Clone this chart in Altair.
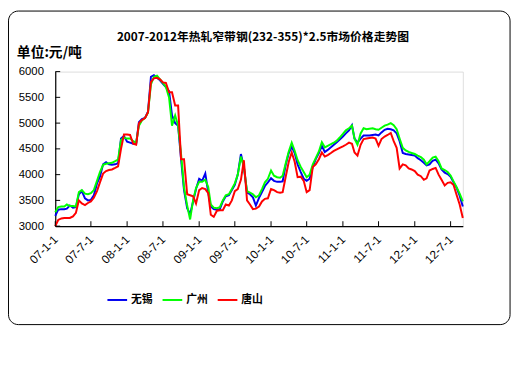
import altair as alt
import pandas as pd

# ---- categories (half-monthly dates, Jan 2007 - Sep 2012) ----
dates = []
for i in range(69):
    yr = 2007 + i // 12
    mo = i % 12 + 1
    dates.append(f"{yr}-{mo:02d}-01T00:00:00")
    if i < 68:
        dates.append(f"{yr}-{mo:02d}-16T00:00:00")

series_names = ["无锡", "广州", "唐山"]
series_colors = ["#0000F0", "#00FF00", "#FF0000"]

wuxi = [
    3200, 3320, 3330, 3330, 3340, 3400, 3360, 3370, 3620, 3680, 3540, 3500,
    3510, 3600, 3830, 3960, 4200, 4240, 4200, 4190, 4200, 4220, 4700, 4750,
    4640, 4620, 4600, 4600, 5020, 5080, 5100, 5220, 5900, 5930, 5880, 5830,
    5760, 5700, 5620, 5150, 5000, 4950, 4300, 3700, 3350, 3230, 3480, 3720,
    3920, 3880, 4020, 3650, 3380, 3330, 3320, 3330, 3480, 3580, 3600, 3700,
    3800, 4000, 4400, 4150, 3650, 3620, 3560, 3400, 3550, 3660, 3780, 3850,
    3930, 3880, 3860, 3860, 3870, 4180, 4420, 4540, 4420, 4200, 4050, 3920,
    3880, 3920, 4150, 4300, 4420, 4560, 4440, 4480, 4530, 4580, 4630, 4680,
    4740, 4800, 4860, 4960, 4700, 4620, 4700, 4760, 4760, 4760, 4770, 4780,
    4760, 4820, 4870, 4890, 4880, 4860, 4800, 4650, 4420, 4400, 4390, 4380,
    4370, 4320, 4280, 4230, 4180, 4200, 4270, 4290, 4220, 4100, 4040, 4010,
    3960, 3850, 3740, 3590, 3380,
]
guangzhou = [
    3270, 3370, 3380, 3380, 3420, 3390, 3390, 3380, 3660, 3700, 3630, 3620,
    3640, 3700, 3880, 4050, 4190, 4210, 4220, 4230, 4260, 4290, 4670, 4720,
    4700, 4700, 4650, 4620, 4950, 5050, 5100, 5200, 5750, 5900, 5920, 5850,
    5780, 5700, 5500, 4950, 5150, 4950, 4400, 3750, 3400, 3130, 3500, 3740,
    3860, 3860, 3900, 3760, 3420, 3360, 3350, 3370, 3500, 3600, 3620, 3720,
    3830, 4000, 4350, 4150, 3680, 3650, 3620, 3560, 3600, 3720, 3850, 3920,
    4080, 3980, 3950, 3940, 3980, 4210, 4450, 4620, 4460, 4280, 4150, 4050,
    3950, 4000, 4200, 4320, 4450, 4630, 4530, 4560, 4590, 4620, 4660, 4720,
    4790, 4860, 4900, 4950, 4700, 4580, 4800, 4900, 4880, 4890, 4900, 4880,
    4870, 4910, 4950, 4970, 5000, 4960, 4880, 4700, 4520, 4470, 4440, 4420,
    4400, 4370, 4340, 4290, 4200, 4260, 4330, 4350, 4260, 4120, 4090, 4050,
    3980, 3870, 3750, 3630, 3480,
]
tangshan = [
    3000, 3120, 3150, 3160, 3160, 3160, 3190, 3260, 3500, 3440, 3410, 3450,
    3480, 3550, 3680, 3850, 4020, 4070, 4090, 4100, 4130, 4160, 4500, 4780,
    4780, 4770, 4600, 4580, 5000, 5060, 5100, 5210, 5800, 5870, 5880, 5850,
    5790, 5780, 5600, 5600, 5340, 5340, 4300, 4300, 3620, 3600, 3580, 3440,
    3700, 3740, 3720, 3640, 3220, 3180, 3300, 3310, 3310, 3420, 3400, 3500,
    3680, 3720, 3900, 4280, 3500, 3420, 3330, 3340, 3380, 3480, 3530, 3540,
    3720, 3700, 3660, 3650, 3660, 3950, 4250, 4430, 4250, 3950, 3960, 3880,
    3660, 3700, 4150, 4200, 4300, 4430, 4350, 4380, 4420, 4460, 4490, 4520,
    4550, 4580, 4620, 4600, 4430, 4370, 4580, 4690, 4700, 4710, 4720, 4700,
    4560, 4690, 4740, 4770, 4810, 4650, 4520, 4120, 4200, 4180, 4120, 4100,
    4070, 4000, 3970, 3900, 3930, 4080, 4110, 4130, 4000, 3900, 3790, 3840,
    3850, 3800, 3600, 3420, 3160,
]

tick_years = [2007, 2007, 2008, 2008, 2009, 2009, 2010, 2010, 2011, 2011, 2012, 2012]
tick_months = [1, 7, 1, 7, 1, 7, 1, 7, 1, 7, 1, 7]
y_ticks = [3000, 3500, 4000, 4500, 5000, 5500, 6000]

chart_title = "2007-2012年热轧窄带钢(232-355)*2.5市场价格走势图"
unit_label = "单位:元/吨"

rows = []
for name, vals in zip(series_names, [wuxi, guangzhou, tangshan]):
    for d, v in zip(dates, vals):
        rows.append({"date": d, "price": v, "city": name})
df = pd.DataFrame(rows)

tick_dt = [alt.DateTime(year=y, month=m, date=1) for y, m in zip(tick_years, tick_months)]
tick_df = pd.DataFrame({"date": [f"{y}-{m:02d}-01T00:00:00" for y, m in zip(tick_years, tick_months)]})

W, H = 414, 157
CJK = "Noto Sans CJK SC"

x_enc = alt.X(
    "date:T",
    scale=alt.Scale(domain=[alt.DateTime(year=2007, month=1, date=1),
                            alt.DateTime(year=2012, month=9, date=1)]),
    axis=alt.Axis(
        title=None, values=tick_dt, format="%y-%-m-%-d", labelAngle=-45,
        labelAlign="right", labelBaseline="middle", labelPadding=11,
        ticks=False, grid=False, domainColor="black", domainWidth=1.2,
        labelFont="Liberation Sans", labelFontSize=12, labelColor="black",
        labelOverlap=False,
    ),
)
y_enc = alt.Y(
    "price:Q",
    scale=alt.Scale(domain=[3000, 6000], nice=False, zero=False),
    axis=alt.Axis(
        title=None, values=y_ticks, format="d", ticks=False, grid=False,
        domainColor="black", domainWidth=1.2, labelPadding=12,
        labelFont="Liberation Sans", labelFontSize=11.5, labelColor="black",
    ),
)

box = alt.Chart(pd.DataFrame({"a": [0]})).mark_rect(
    fillOpacity=0, stroke="black", strokeWidth=1, cornerRadius=10
).encode(
    x=alt.value(-47.5), x2=alt.value(462), y=alt.value(-61.5), y2=alt.value(257)
)

lines = alt.Chart(df).mark_line(strokeWidth=2).encode(
    x=x_enc,
    y=y_enc,
    color=alt.Color(
        "city:N",
        sort=series_names,
        scale=alt.Scale(domain=series_names, range=series_colors),
        legend=alt.Legend(
            title=None, orient="none", legendX=52, legendY=221,
            direction="horizontal", symbolType="stroke", symbolSize=400,
            symbolStrokeWidth=2, labelFont=CJK, labelFontWeight="bold",
            labelFontSize=11, labelColor="black", labelOffset=3, columnPadding=6,
        ),
    ),
)

xticks = alt.Chart(tick_df).mark_rule(color="black").encode(
    x=x_enc, y=alt.value(H), y2=alt.value(H - 5)
)
yticks = alt.Chart(pd.DataFrame({"price": y_ticks})).mark_rule(color="black").encode(
    y=y_enc, x=alt.value(0), x2=alt.value(5)
)

title_txt = alt.Chart(pd.DataFrame({"t": [chart_title]})).mark_text(
    font=CJK, fontWeight="bold", fontSize=12, align="center", baseline="middle", color="black"
).encode(text="t:N", x=alt.value(211), y=alt.value(-35))

unit_txt = alt.Chart(pd.DataFrame({"t": [unit_label]})).mark_text(
    font=CJK, fontWeight="bold", fontSize=14, align="left", baseline="middle", color="black"
).encode(text="t:N", x=alt.value(-39), y=alt.value(-19))

chart = alt.layer(box, lines, xticks, yticks, title_txt, unit_txt).properties(
    width=W, height=H,
    autosize=alt.AutoSizeParams(type="none"),
    padding={"left": 48, "top": 62, "right": 52, "bottom": 110},
).configure_view(stroke=None).configure(background="white")

chart.save("out.html", embed_options={"renderer": "svg", "actions": False})
